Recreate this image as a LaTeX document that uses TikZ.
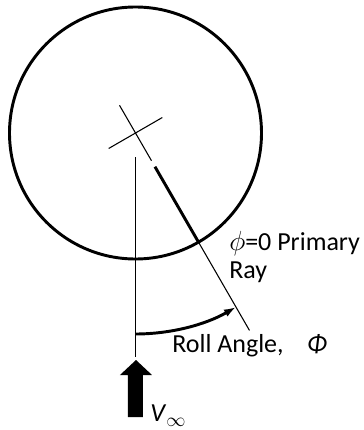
\documentclass[tikz,border=0pt]{standalone}
\usepackage{fontspec}
\setmainfont{Carlito}
\usepackage{tikz}
\usetikzlibrary{positioning,arrows.meta,calc}

\begin{document}
\begin{tikzpicture}[x=0.75pt, y=0.75pt,
  thinline/.style={line width=0.8pt},
  thickline/.style={line width=2.2pt},
  every node/.style={font=\fontsize{19.5}{21}\selectfont, inner sep=0pt}]

\useasboundingbox (0,0) rectangle (364,430);

% Points
\coordinate (c) at (135.5,297);
\coordinate (raystart) at ($(c)+(-60:39)$);
\coordinate (rayrim) at ($(c)+(-60:126)$);
\coordinate (rayend) at ($(c)+(-60:228)$);
\coordinate (vtop) at ($(c)+(0,-24)$);
\coordinate (vbot) at ($(c)+(0,-224)$);
\coordinate (arcstart) at ($(c)+(-90:201)$);

% Body and centre mark
\draw[thickline] (c) circle[radius=126];
\draw[thinline] ($(c)+(120:32)$) -- ($(c)+(-60:32)$);
\draw[thinline] ($(c)+(210:31)$) -- ($(c)+(30:31)$);

% Lines
\draw[thinline] (raystart) -- (rayend);
\draw[thickline] (raystart) -- (rayrim);
\draw[thinline] (vtop) -- (vbot);

% Arrows
\draw[thickline, -{Latex[length=9pt,width=6pt]}] (arcstart) arc[start angle=-90, end angle=-60, radius=201];
\fill (128,13) -- (128,55) -- (120,55) -- (136,70) -- (152,55) -- (143,55) -- (143,13) -- cycle;

% Labels
\node[anchor=north west, align=left] (raylabel) at (229,199) {$\phi$=0 Primary\\Ray};
\node[anchor=base west] (rolllabel) at (172,78) {Roll Angle,\hspace{0.9em}\textit{Φ}};
\node[anchor=base west] (vlabel) at (150,8) {\textit{V}$_\infty$};

\end{tikzpicture}
\end{document}
